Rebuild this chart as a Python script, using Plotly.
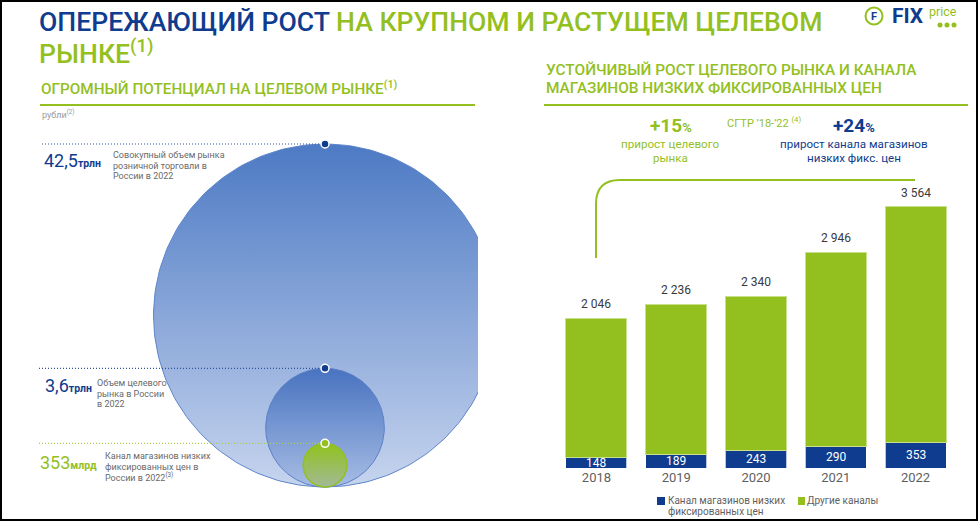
import numpy as np
import plotly.graph_objects as go

W, H = 978, 521
def X(p): return p / W
def Y(p): return 1 - p / H

# ---------------- data ----------------
years = ["2018", "2019", "2020", "2021", "2022"]
low_price_channel = [148, 189, 243, 290, 353]      # Канал магазинов низких фиксированных цен
other_channels = [1898, 2047, 2097, 2656, 3211]    # Другие каналы
totals = [2046, 2236, 2340, 2946, 3564]            # total labels

market_values_bn = [42500, 3600, 353]              # млрд руб
market_numbers = ["42,5", "3,6", "353"]
market_units = ["трлн", "трлн", "млрд"]
market_desc = [
    ["Совокупный объем рынка", "розничной торговли в", "России в 2022"],
    ["Объем целевого", "рынка в России", "в 2022"],
    ["Канал магазинов низких", "фиксированных цен в", "России в 2022<sup>(3)</sup>"],
]

BLUE = "#0f3c8e"
GREEN = "#93c01f"
GRAY = "#5f5f5f"
FONT = "Roboto"

xi = list(range(len(years)))

fig = go.Figure()

# ---------------- bars ----------------
fig.add_trace(go.Bar(x=xi, y=low_price_channel, width=0.765,
                     marker=dict(color=BLUE, line=dict(color="rgba(255,255,255,0.7)", width=1)),
                     name="Канал магазинов низких фиксированных цен", showlegend=False, hoverinfo="skip"))
fig.add_trace(go.Bar(x=xi, y=other_channels, width=0.765,
                     marker=dict(color=GREEN, line=dict(color="#c8e08a", width=1)),
                     name="Другие каналы", showlegend=False, hoverinfo="skip"))

annotations = []
def fmt(v):
    return f"{v:,}".replace(",", " ")
for i, (t, c) in enumerate(zip(totals, low_price_channel)):
    annotations.append(dict(x=i, y=t, xref="x", yref="y", text=fmt(t), showarrow=False,
                            yanchor="middle", yshift=14, font=dict(family=FONT, size=12, color="#3a3a3a")))
    annotations.append(dict(x=i, y=c / 2, xref="x", yref="y", text=str(c), showarrow=False,
                            yanchor="middle", font=dict(family=FONT, size=12, color="white")))

# ---------------- circles ----------------
cx = 325
bottom_px = 487
big_d = 343
expo = 0.43
diam = [big_d * (v / market_values_bn[0]) ** expo for v in market_values_bn]
fills = [
    ("#c6d4ee", "#4d7ac4", "#5d85ca", 1),
    ("#a6bce4", "#4873c0", "#5b80c7", 1),
    ("#a3b997", "#8fc31a", GREEN, 1.5),
]
theta = np.linspace(0, 2 * np.pi, 241)
tops = []
for d, (c0, c1, lc, lw) in zip(diam, fills):
    r = d / 2
    cy = (H - bottom_px) + r
    tops.append(cy + r)
    fig.add_trace(go.Scatter(x=(cx + r * np.cos(theta)).tolist(), y=(cy + r * np.sin(theta)).tolist(), mode="lines",
                             fill="toself", line=dict(color=lc, width=lw),
                             fillgradient=dict(type="vertical", colorscale=[[0, c0], [1, c1]]),
                             xaxis="x2", yaxis="y2", hoverinfo="skip", showlegend=False))

line_cols = ["#2b53a0", "#2b53a0", "#a8cf45"]
line_x0 = [42, 39, 39]
for t, lc, x0 in zip(tops, line_cols, line_x0):
    fig.add_trace(go.Scatter(x=[x0, cx], y=[t, t], mode="lines", line=dict(color=lc, width=1.2, dash="1px,2px"),
                             xaxis="x2", yaxis="y2", hoverinfo="skip", showlegend=False))
fig.add_trace(go.Scatter(x=[cx] * 3, y=tops, mode="markers",
                         marker=dict(size=8, color=[BLUE, BLUE, GREEN], line=dict(color="white", width=1.5)),
                         xaxis="x2", yaxis="y2", hoverinfo="skip", showlegend=False, cliponaxis=False))

num_cols = [BLUE, BLUE, GREEN]
num_x = [42, 43, 38]
desc_x = [111, 95, 103]
num_off = [16, 17, 19]
desc_off = [[11, 22, 32.5], [15, 25.5, 36], [13, 24, 34]]
for i in range(3):
    top_px = H - tops[i]
    annotations.append(dict(x=X(num_x[i]), y=Y(top_px + num_off[i]), xref="paper", yref="paper", xanchor="left", yanchor="middle",
                            showarrow=False, text=f"{market_numbers[i]}<b><span style='font-size:10.5px'>{market_units[i]}</span></b>",
                            font=dict(family=FONT, size=18, color=num_cols[i])))
    for line, off in zip(market_desc[i], desc_off[i]):
        annotations.append(dict(x=X(desc_x[i]), y=Y(top_px + off), xref="paper", yref="paper", xanchor="left", yanchor="middle",
                                showarrow=False, text=line, font=dict(family=FONT, size=9, color="#6a6a6a")))

# ---------------- texts ----------------
def txt(x, y, text, size, color, anchor="left", weight=None):
    f = dict(family=FONT, size=size, color=color)
    if weight:
        f["weight"] = weight
    annotations.append(dict(x=X(x), y=Y(y), xref="paper", yref="paper", xanchor=anchor, yanchor="middle",
                            showarrow=False, text=text, font=f))

txt(37, 22, f"ОПЕРЕЖАЮЩИЙ РОСТ <span style='color:{GREEN}'>НА КРУПНОМ И РАСТУЩЕМ ЦЕЛЕВОМ</span>", 26.6, BLUE, weight=500)
txt(37, 52, "РЫНКЕ<sup>(1)</sup>", 26.6, GREEN, weight=500)
txt(39, 88.5, "ОГРОМНЫЙ ПОТЕНЦИАЛ НА ЦЕЛЕВОМ РЫНКЕ<sup>(1)</sup>", 15.3, GREEN, weight=500)
txt(40, 114, "рубли<sup>(2)</sup>", 9, "#9a9a9a")
txt(544, 70.5, "УСТОЙЧИВЫЙ РОСТ ЦЕЛЕВОГО РЫНКА И КАНАЛА", 15.4, GREEN, weight=500)
txt(544, 87.5, "МАГАЗИНОВ НИЗКИХ ФИКСИРОВАННЫХ ЦЕН", 15.4, GREEN, weight=500)
txt(671, 125, "<b>+15<span style='font-size:13px'>%</span></b>", 19, GREEN, "center")
txt(670, 144, "прирост целевого", 11.6, GREEN, "center")
txt(670, 158, "рынка", 11.6, GREEN, "center")
txt(725, 122, "СГТР ’18-’22 <sup>(4)</sup>", 11, GREEN)
txt(854, 125, "<b>+24<span style='font-size:13px'>%</span></b>", 19, BLUE, "center")
txt(854, 144, "прирост канала магазинов", 11.6, BLUE, "center")
txt(854, 158, "низких фикс. цен", 11.6, BLUE, "center")

# legend
txt(666, 500.7, "Канал магазинов низких", 10, GRAY)
txt(666, 511.7, "фиксированных цен", 10, GRAY)
txt(805, 500.7, "Другие каналы", 10, GRAY)

# logo
txt(874, 16.5, "<b>F</b>", 11, BLUE, "center")
txt(890, 16, "<b>FIX</b>", 21, BLUE)
txt(927, 11, "price", 12.5, GREEN)

shapes = [
    dict(type="line", xref="paper", yref="paper", x0=X(40), x1=X(475), y0=Y(105), y1=Y(105), line=dict(color=GREEN, width=2)),
    dict(type="line", xref="paper", yref="paper", x0=X(544), x1=X(968), y0=Y(105), y1=Y(105), line=dict(color=GREEN, width=2)),
    dict(type="path", xref="paper", yref="paper",
         path=f"M {X(596):.5f},{Y(258):.5f} L {X(596):.5f},{Y(204):.5f} Q {X(596):.5f},{Y(180):.5f} {X(620):.5f},{Y(180):.5f} L {X(915):.5f},{Y(180):.5f}",
         line=dict(color=GREEN, width=2)),
    dict(type="rect", xref="paper", yref="paper", x0=X(657), x1=X(665), y0=Y(505), y1=Y(497), fillcolor=BLUE, line=dict(width=0)),
    dict(type="rect", xref="paper", yref="paper", x0=X(798), x1=X(805), y0=Y(505), y1=Y(497), fillcolor=GREEN, line=dict(width=0)),
    dict(type="circle", xref="paper", yref="paper", x0=X(865.5), x1=X(882.5), y0=Y(24.5), y1=Y(7.5),
         fillcolor="white", line=dict(color=GREEN, width=2)),
    dict(type="rect", xref="paper", yref="paper", x0=0, x1=1, y0=0, y1=1, line=dict(color="black", width=4), layer="above"),
]
for dx in (940, 947, 954):
    shapes.append(dict(type="circle", xref="paper", yref="paper", x0=X(dx - 2.5), x1=X(dx + 2.5), y0=Y(27.5), y1=Y(22.5),
                       fillcolor=GREEN, line=dict(width=0)))

fig.update_layout(
    template="none",
    width=W, height=H, margin=dict(l=0, r=0, t=0, b=0, pad=0), autosize=False,
    paper_bgcolor="white", plot_bgcolor="rgba(0,0,0,0)",
    barmode="stack",
    xaxis=dict(domain=[X(556.6), X(955.4)], range=[-0.5, 4.5], tickmode="array", tickvals=xi, ticktext=years,
               showgrid=False, zeroline=False, showline=False, automargin=False,
               ticks="", tickfont=dict(family=FONT, size=13, color=GRAY), fixedrange=True),
    yaxis=dict(domain=[Y(468), Y(190)], range=[0, (468 - 190) / 0.0733], visible=False, fixedrange=True, automargin=False),
    xaxis2=dict(domain=[0, X(478)], range=[0, 478], visible=False, anchor="y2", fixedrange=True, automargin=False),
    yaxis2=dict(domain=[0, 1], range=[0, H], visible=False, anchor="x2", fixedrange=True, automargin=False),
    annotations=annotations, shapes=shapes, showlegend=False,
    font=dict(family=FONT),
)

fig.write_html("out.html", config={"displayModeBar": False},
               post_script="document.body.style.margin='0px';document.body.style.padding='0px';document.documentElement.style.overflow='hidden';")
